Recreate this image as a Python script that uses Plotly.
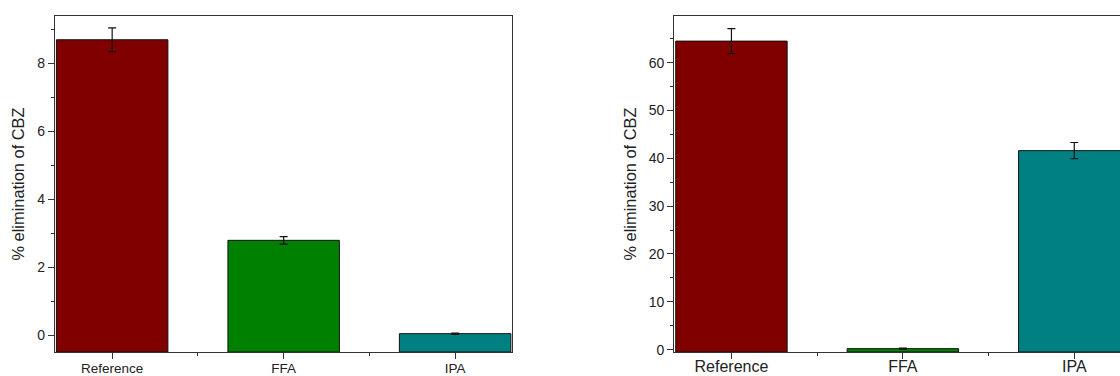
import plotly.graph_objects as go

categories = ["Reference", "FFA", "IPA"]
colors = ["#800000", "#008000", "#008080"]

# Panel 1 (left)
values_left = [8.70, 2.79, 0.04]
errors_left = [0.35, 0.11, 0.02]
yticks_left = [0, 2, 4, 6, 8]

# Panel 2 (right)
values_right = [64.5, 0.2, 41.6]
errors_right = [2.6, 0.1, 1.7]
yticks_right = [0, 10, 20, 30, 40, 50, 60]

ylabel = "% elimination of CBZ"

yrange_left = [-0.5, 9.4]
yrange_right = [-0.5, 69.75]

pos = list(range(len(categories)))
FONT = "Liberation Sans, Arial, sans-serif"
AX = "#333333"

fig = go.Figure()

def add_panel(vals, errs, yr, xa, ya):
    base = yr[0]
    fig.add_trace(go.Bar(
        x=pos, y=[v - base for v in vals], base=[base] * len(vals),
        width=0.65, marker=dict(color=colors, line=dict(color="#111111", width=1)),
        xaxis=xa, yaxis=ya, showlegend=False, hoverinfo="skip"))
    fig.add_trace(go.Scatter(
        x=pos, y=vals, mode="markers", marker=dict(size=0.1, color="rgba(0,0,0,0)"),
        error_y=dict(type="data", array=errs, visible=True, color="#111111",
                     thickness=1.2, width=4),
        xaxis=xa, yaxis=ya, showlegend=False, hoverinfo="skip"))

add_panel(values_left, errors_left, yrange_left, "x", "y")
add_panel(values_right, errors_right, yrange_right, "x2", "y2")

xcommon = dict(
    tickmode="array", tickvals=pos, automargin=False,
    ticks="outside", ticklen=6, tickwidth=1.2, tickcolor=AX,
    minor=dict(tickmode="array", tickvals=[p + 0.5 for p in pos[:-1]],
               ticks="outside", ticklen=3, tickwidth=1.2, tickcolor=AX),
    showline=True, linecolor=AX, linewidth=1.3, mirror=True,
    showgrid=False, zeroline=False, range=[-1/3, 7/3],
    ticklabelstandoff=-2,
)
ycommon = dict(
    automargin=False,
    ticks="outside", ticklen=6, tickwidth=1.2, tickcolor=AX,
    showline=True, linecolor=AX, linewidth=1.3,
    showgrid=False, zeroline=False,
    tickfont=dict(family=FONT, size=14, color="#222222"),
    title=dict(text=ylabel, font=dict(family=FONT, size=16.4, color="#222222"), standoff=8),
)

fig.update_layout(
    width=1120, height=376,
    margin=dict(l=0, r=0, t=16, b=24),
    paper_bgcolor="white", plot_bgcolor="white",
    xaxis=dict(xcommon, domain=[55/1120, 512.3/1120], anchor="y",
               ticktext=categories,
               tickfont=dict(family=FONT, size=13.5, color="#222222")),
    yaxis=dict(ycommon, domain=[0, 1], anchor="x", range=yrange_left,
               tickmode="array", tickvals=yticks_left, mirror=True,
               minor=dict(tickmode="array", tickvals=[t + 1 for t in yticks_left],
                          ticks="outside", ticklen=3, tickwidth=1.2, tickcolor=AX)),
    xaxis2=dict(xcommon, domain=[674.3/1120, 1.0], anchor="y2",
                range=[-1/3, 2 + (1120 - 1074.3) / 171.3],
                ticktext=categories, ticklabelstandoff=-6,
                tickfont=dict(family=FONT, size=16, color="#222222")),
    yaxis2=dict(ycommon, domain=[0, 1], anchor="x2", range=yrange_right,
                tickmode="array", tickvals=yticks_right, mirror=False,
                minor=dict(tickmode="array", tickvals=[t + 5 for t in yticks_right],
                           ticks="outside", ticklen=3, tickwidth=1.2, tickcolor=AX)),
)

fig.write_html("out.html", config={"displayModeBar": False},
               post_script="document.body.style.margin='0';document.body.style.overflow='hidden';")
